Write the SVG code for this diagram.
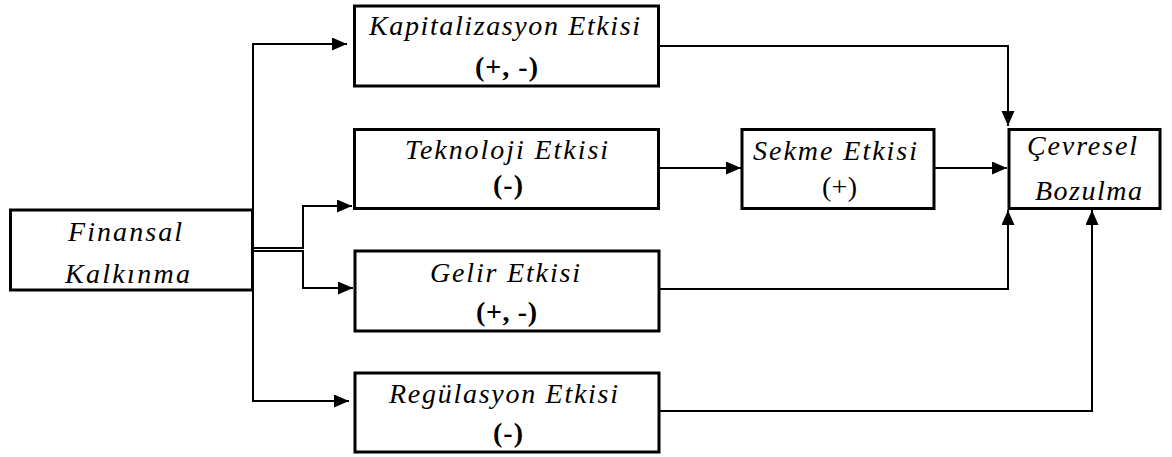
<svg xmlns="http://www.w3.org/2000/svg" width="1172" height="457" viewBox="0 0 1172 457">
<defs>
<marker id="arr" markerUnits="userSpaceOnUse" markerWidth="16" markerHeight="14" refX="15" refY="6.5" orient="auto">
<path d="M0,0 L15,6.5 L0,13 z" fill="#000"/>
</marker>
</defs>
<rect width="1172" height="457" fill="#fff"/>
<g id="connectors" fill="none" stroke="#000" stroke-width="2">
<path d="M253,250 V44 H347" marker-end="url(#arr)"/>
<path d="M253,250 V401 H349" marker-end="url(#arr)"/>
<path d="M254,248 H303 V206 H352" marker-end="url(#arr)"/>
<path d="M254,251 H303 V288 H353" marker-end="url(#arr)"/>
<path d="M659,46 H1008 V126" marker-end="url(#arr)"/>
<path d="M659,168 H741" marker-end="url(#arr)"/>
<path d="M935,168 H1007" marker-end="url(#arr)"/>
<path d="M660,289 H1008 V210" marker-end="url(#arr)"/>
<path d="M660,411 H1092 V210" marker-end="url(#arr)"/>
</g>
<g id="finansal">
<rect x="10.5" y="210" width="242" height="80" fill="#fff" stroke="#000" stroke-width="3"/>
<text x="68" y="241" font-family="'Liberation Serif', 'Times New Roman', serif" font-size="28" font-style="italic" textLength="114" lengthAdjust="spacing">Finansal</text>
<text x="65" y="283" font-family="'Liberation Serif', 'Times New Roman', serif" font-size="28" font-style="italic" textLength="125" lengthAdjust="spacing">Kalkınma</text>
</g>
<g id="kapitalizasyon">
<rect x="354.5" y="6" width="304" height="80" fill="#fff" stroke="#000" stroke-width="3"/>
<text x="369" y="35" font-family="'Liberation Serif', 'Times New Roman', serif" font-size="28" font-style="italic" textLength="271" lengthAdjust="spacing">Kapitalizasyon Etkisi</text>
<text x="475" y="76" font-family="'Liberation Serif', 'Times New Roman', serif" font-size="28" font-weight="bold" textLength="63" lengthAdjust="spacing">(+, -)</text>
</g>
<g id="teknoloji">
<rect x="354.5" y="129.5" width="304" height="79" fill="#fff" stroke="#000" stroke-width="3"/>
<text x="405" y="159" font-family="'Liberation Serif', 'Times New Roman', serif" font-size="28" font-style="italic" textLength="203" lengthAdjust="spacing">Teknoloji Etkisi</text>
<text x="493" y="194" font-family="'Liberation Serif', 'Times New Roman', serif" font-size="28" font-weight="bold" textLength="30" lengthAdjust="spacing">(-)</text>
</g>
<g id="gelir">
<rect x="355" y="251" width="304" height="80" fill="#fff" stroke="#000" stroke-width="3"/>
<text x="430" y="282" font-family="'Liberation Serif', 'Times New Roman', serif" font-size="28" font-style="italic" textLength="150" lengthAdjust="spacing">Gelir Etkisi</text>
<text x="476" y="321" font-family="'Liberation Serif', 'Times New Roman', serif" font-size="28" font-weight="bold" textLength="61" lengthAdjust="spacing">(+, -)</text>
</g>
<g id="regulasyon">
<rect x="355" y="373" width="304" height="79" fill="#fff" stroke="#000" stroke-width="3"/>
<text x="389" y="403" font-family="'Liberation Serif', 'Times New Roman', serif" font-size="28" font-style="italic" textLength="229" lengthAdjust="spacing">Regülasyon Etkisi</text>
<text x="493" y="442" font-family="'Liberation Serif', 'Times New Roman', serif" font-size="28" font-weight="bold" textLength="30" lengthAdjust="spacing">(-)</text>
</g>
<g id="sekme">
<rect x="742" y="129.5" width="192" height="79" fill="#fff" stroke="#000" stroke-width="3"/>
<text x="753" y="160" font-family="'Liberation Serif', 'Times New Roman', serif" font-size="28" font-style="italic" textLength="164" lengthAdjust="spacing">Sekme Etkisi</text>
<text x="822" y="196" font-family="'Liberation Serif', 'Times New Roman', serif" font-size="28" textLength="35" lengthAdjust="spacing">(+)</text>
</g>
<g id="cevresel">
<rect x="1009" y="129.5" width="151" height="79" fill="#fff" stroke="#000" stroke-width="3"/>
<text x="1027" y="155" font-family="'Liberation Serif', 'Times New Roman', serif" font-size="28" font-style="italic" textLength="110" lengthAdjust="spacing">Çevresel</text>
<text x="1035" y="200" font-family="'Liberation Serif', 'Times New Roman', serif" font-size="28" font-style="italic" textLength="107" lengthAdjust="spacing">Bozulma</text>
</g>
</svg>
